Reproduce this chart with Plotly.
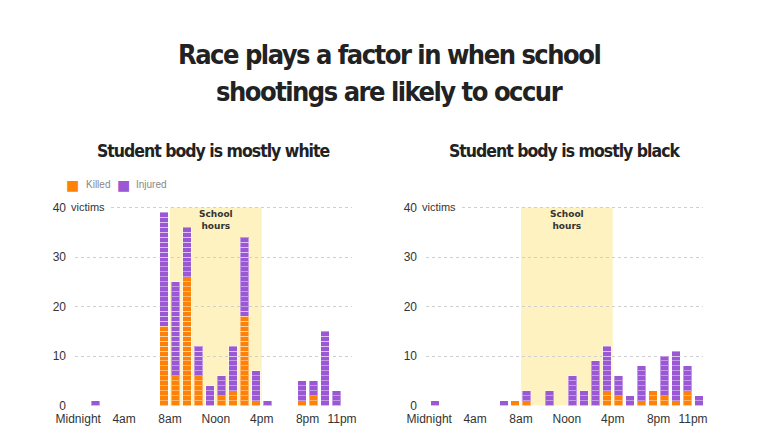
import plotly.graph_objects as go

# hour of day (0 = midnight) and victims per hour
white_hours = [1, 7, 8, 9, 10, 11, 12, 13, 14, 15, 16, 19, 20, 21, 22]
white_killed = [0, 16, 6, 26, 6, 0, 2, 3, 18, 1, 0, 1, 2, 0, 0]
white_injured = [1, 23, 19, 10, 6, 4, 4, 9, 16, 6, 1, 4, 3, 15, 3]

black_hours = [0, 6, 7, 8, 10, 12, 13, 14, 15, 16, 17, 18, 19, 20, 21, 22, 23]
black_killed = [0, 0, 1, 1, 0, 0, 0, 0, 3, 2, 0, 1, 3, 2, 1, 3, 0]
black_injured = [1, 1, 0, 2, 3, 6, 3, 9, 9, 4, 2, 7, 0, 8, 10, 5, 2]

tick_hours = [0, 4, 8, 12, 16, 20, 23]
tick_labels = ["Midnight", "4am", "8am", "Noon", "4pm", "8pm", "11pm"]
y_ticks = [0, 10, 20, 30, 40]

school_start, school_end = 8, 16

ORANGE = "#ff8208"
PURPLE = "#9b58d4"
# the page body keeps its default 8px margin, so the figure is a bit smaller
PAD = 8
W, H = 770 - PAD, 443 - PAD


def px(p):
    return (p - PAD) / W


def py(p):
    return 1 - (p - PAD) / H


fig = go.Figure()


def add_panel(hours, killed, injured, xa, ya):
    xs = [h + 0.5 for h in hours]
    # each victim is one stacked block, so the bars show unit stripes
    for name, vals, color in [("Killed", killed, ORANGE), ("Injured", injured, PURPLE)]:
        for i in range(max(vals)):
            fig.add_trace(go.Bar(
                x=xs, y=[1 if v > i else None for v in vals],
                xaxis=xa, yaxis=ya, width=0.74,
                marker=dict(color=color, line=dict(color="rgba(255,255,255,0.4)", width=1)),
                name=name, showlegend=False, hoverinfo="skip",
            ))


add_panel(white_hours, white_killed, white_injured, "x", "y")
add_panel(black_hours, black_killed, black_injured, "x2", "y2")

xdom1 = [px(75), px(352)]
xdom2 = [px(426), px(703)]
ydom = [py(405.5), py(405.5 - 41 * 4.95)]

axis_x = dict(range=[-0.28, 23.87], tickvals=tick_hours, ticktext=tick_labels,
              showgrid=False, zeroline=False, showline=False, ticks="", automargin=False,
              tickfont=dict(family="Liberation Sans, Arial", size=12, color="#333"),
              ticklabelstandoff=4)
axis_y = dict(range=[0, 41], tickvals=y_ticks, showgrid=True, gridcolor="#cfcfcf",
              griddash="dot", gridwidth=1, zeroline=False, showline=False, ticks="",
              automargin=False,
              tickfont=dict(family="Liberation Sans, Arial", size=12, color="#333"),
              ticklabelstandoff=8)

fig.update_layout(
    width=W, height=H,
    margin=dict(l=0, r=0, t=0, b=0),
    paper_bgcolor="white", plot_bgcolor="white",
    barmode="stack", showlegend=False,
    xaxis=dict(domain=xdom1, anchor="y", **axis_x),
    yaxis=dict(domain=ydom, anchor="x", **axis_y),
    xaxis2=dict(domain=xdom2, anchor="y2", **axis_x),
    yaxis2=dict(domain=ydom, anchor="x2", **axis_y),
)

# legend: coloured square + label
for name, color, xsq in [("Killed", ORANGE, 72.5), ("Injured", PURPLE, 123)]:
    fig.add_annotation(xref="paper", yref="paper", x=px(xsq), y=py(185), xanchor="center",
                       yanchor="middle", text="■", showarrow=False,
                       font=dict(family="DejaVu Sans", size=14, color=color))
    fig.add_annotation(xref="paper", yref="paper", x=px(xsq + 11), y=py(185), xanchor="left",
                       yanchor="middle", text=name, showarrow=False,
                       font=dict(family="Liberation Sans, Arial", size=10, color="#888"))

for xa, ya in [("x", "y"), ("x2", "y2")]:
    fig.add_shape(type="rect", xref=xa, yref=ya, x0=school_start, x1=school_end, y0=0, y1=40,
                  fillcolor="#fef2c0", line=dict(width=0), layer="below")
    fig.add_annotation(xref=xa, yref=ya, x=(school_start + school_end) / 2, y=40.1,
                       text="<b>School<br>hours</b>", showarrow=False, yanchor="top",
                       xanchor="center",
                       font=dict(family="DejaVu Sans", size=9, color="#333"))

for x0 in [xdom1[0], xdom2[0]]:
    fig.add_annotation(xref="paper", yref="paper", x=x0 - 8 / W, y=py(207.5), text="victims",
                       showarrow=False, xanchor="left", yanchor="middle", bgcolor="white",
                       borderpad=3, font=dict(family="Liberation Sans, Arial", size=11, color="#333"))

title_font = dict(family="DejaVu Sans Condensed", size=27, color="#222", weight="bold")
for line, ypix in [("Race plays a factor in when school", 55), ("shootings are likely to occur", 92)]:
    fig.add_annotation(xref="paper", yref="paper", x=0.5, y=py(ypix), xanchor="center",
                       yanchor="middle", showarrow=False, font=title_font,
                       text='<span style="letter-spacing:-1.5px">' + line + "</span>")

sub_font = dict(family="DejaVu Sans Condensed", size=17.5, color="#222", weight="bold")
for dom, line in [(xdom1, "Student body is mostly white"), (xdom2, "Student body is mostly black")]:
    fig.add_annotation(xref="paper", yref="paper", x=sum(dom) / 2, y=py(151), xanchor="center",
                       yanchor="middle", showarrow=False, font=sub_font,
                       text='<span style="letter-spacing:-1px">' + line + "</span>")

fig.write_html("out.html")
